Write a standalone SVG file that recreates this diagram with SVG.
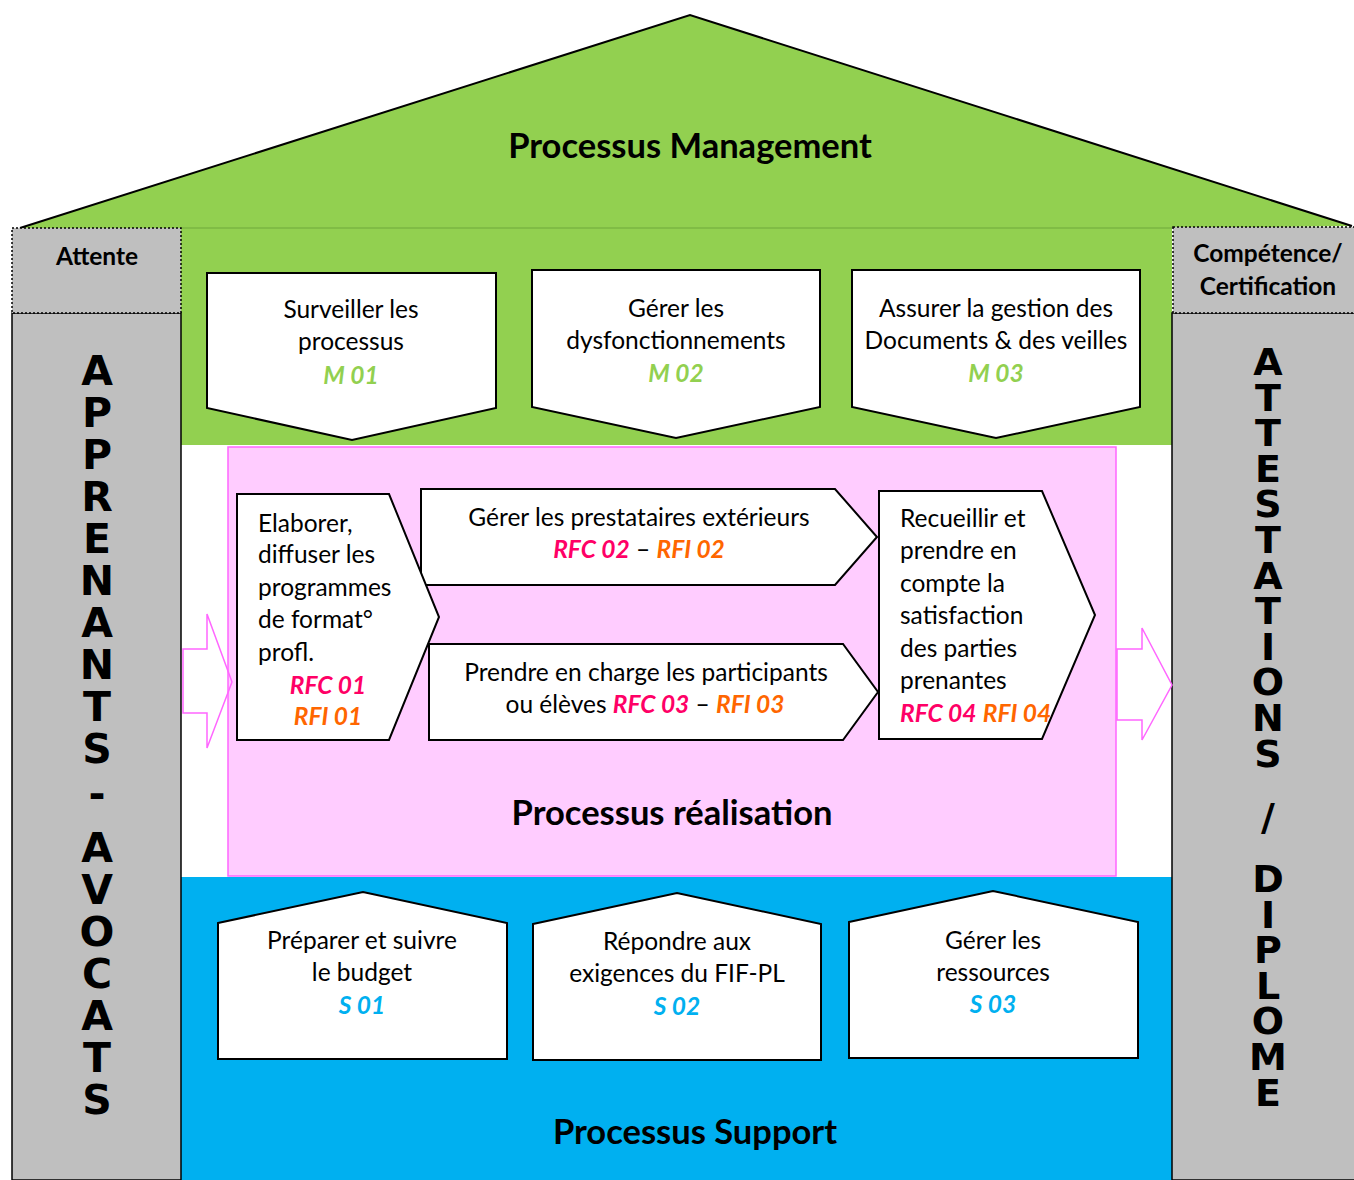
<svg xmlns="http://www.w3.org/2000/svg" width="1354" height="1180" viewBox="0 0 1354 1180">
<style>
.t{font-family:Lato,"Open Sans","Liberation Sans",sans-serif;font-size:24.5px;fill:#000}
.c{text-anchor:middle}
.code{font-weight:bold;font-style:italic}
.title{font-family:Lato,"Open Sans","Liberation Sans",sans-serif;font-size:34.5px;font-weight:bold;text-anchor:middle;fill:#000}
.hdr{font-family:Lato,"Open Sans","Liberation Sans",sans-serif;font-size:24.5px;font-weight:bold;text-anchor:middle;fill:#000}
.vl{font-family:"DejaVu Sans",sans-serif;font-weight:bold;fill:#000;writing-mode:vertical-rl;text-orientation:upright}
.node{fill:#fff;stroke:#000;stroke-width:2;stroke-linejoin:miter}
.rfc{fill:#FF0066}
.rfi{fill:#FF6600}
.m{fill:#92D050}
.s{fill:#00B0F0}
.dot{fill:none;stroke:#000;stroke-width:1.5;stroke-dasharray:2 2}
.arrow{fill:none;stroke:#FF66FF;stroke-width:1.5}
</style>
<rect width="1354" height="1180" fill="#fff"/>
<g id="roof">
<polygon points="20,228 690,15 1352,226 1172,228 1172,445 181,445 181,228" fill="#92D050"/>
<polyline points="20,228 690,15 1352,226" fill="none" stroke="#000" stroke-width="2"/>
<line x1="181" y1="228" x2="1172" y2="228" stroke="#6FA83A" stroke-width="1"/>
<text class="title" x="690" y="158">Processus Management</text>
</g>
<g id="support-band">
<rect x="181" y="877" width="991" height="303" fill="#00B0F0"/>
<text class="title" x="695" y="1144">Processus Support</text>
</g>
<g id="realisation-zone">
<rect x="228" y="447" width="888" height="429" fill="#FFCCFF" stroke="#FF66FF" stroke-width="1.5"/>
<text class="title" x="672" y="825">Processus réalisation</text>
</g>
<g id="left-column">
<rect x="12" y="313" width="169" height="867" fill="#BFBFBF" stroke="#000" stroke-width="1.5"/>
<rect x="12" y="228" width="169" height="85" fill="#BFBFBF"/>
<rect x="12" y="228" width="169" height="85" class="dot"/>
<text class="hdr" x="97" y="265">Attente</text>
<text class="vl" font-size="41" letter-spacing="-6" x="97" y="347">APPRENANTS</text>
<text class="vl" font-size="41" x="97" y="770">-</text>
<text class="vl" font-size="41" letter-spacing="-6" x="97" y="824">AVOCATS</text>
</g>
<g id="right-column">
<rect x="1172" y="313" width="183" height="867" fill="#BFBFBF" stroke="#000" stroke-width="1.5"/>
<rect x="1173" y="227" width="181" height="86" fill="#BFBFBF"/>
<rect x="1173" y="227" width="185" height="86" class="dot"/>
<text class="hdr" x="1268" y="262">Compétence/</text>
<text class="hdr" x="1268" y="295">Certification</text>
<text class="vl" font-size="38" letter-spacing="-8.4" x="1268" y="340">ATTESTATIONS</text>
<text class="vl" font-size="38" x="1268" y="795">/</text>
<text class="vl" font-size="38" letter-spacing="-8.4" x="1268" y="857">DIPLOME</text>
</g>
<g id="M01">
<polygon class="node" points="207,273 496,273 496,408 352,440 207,408"/>
<text class="t c" x="351" y="318">Surveiller les</text>
<text class="t c" x="351" y="350">processus</text>
<text class="t c code m" x="351" y="384">M 01</text>
</g>
<g id="M02">
<polygon class="node" points="532,270 820,270 820,407 676,438 532,407"/>
<text class="t c" x="676" y="317">Gérer les</text>
<text class="t c" x="676" y="349">dysfonctionnements</text>
<text class="t c code m" x="676" y="382">M 02</text>
</g>
<g id="M03">
<polygon class="node" points="852,270 1140,270 1140,407 996,438 852,407"/>
<text class="t c" x="996" y="317">Assurer la gestion des</text>
<text class="t c" x="996" y="349">Documents &amp; des veilles</text>
<text class="t c code m" x="996" y="382">M 03</text>
</g>
<g id="RFC02">
<polygon class="node" points="421,489 835,489 877,537 835,585 421,585"/>
<text class="t c" x="639" y="526">Gérer les prestataires extérieurs</text>
<text class="t c" x="639" y="558"><tspan class="code rfc">RFC 02</tspan> – <tspan class="code rfi">RFI 02</tspan></text>
</g>
<g id="RFC03">
<polygon class="node" points="429,644 843,644 878,692 843,740 429,740"/>
<text class="t c" x="646" y="681">Prendre en charge les participants</text>
<text class="t c" x="645" y="713">ou élèves <tspan class="code rfc">RFC 03</tspan> – <tspan class="code rfi">RFI 03</tspan></text>
</g>
<g id="RFC01">
<polygon class="node" points="237,494 389,494 439,617 389,740 237,740"/>
<text class="t" x="258" y="532">Elaborer,</text>
<text class="t" x="258" y="563">diffuser les</text>
<text class="t" x="258" y="596">programmes</text>
<text class="t" x="258" y="628">de format°</text>
<text class="t" x="258" y="661">profl.</text>
<text class="t c code rfc" x="328" y="694">RFC 01</text>
<text class="t c code rfi" x="328" y="725">RFI 01</text>
</g>
<g id="RFC04">
<polygon class="node" points="879,491 1042,491 1095,615 1042,739 879,739"/>
<text class="t" x="900" y="527">Recueillir et</text>
<text class="t" x="900" y="559">prendre en</text>
<text class="t" x="900" y="592">compte la</text>
<text class="t" x="900" y="624">satisfaction</text>
<text class="t" x="900" y="657">des parties</text>
<text class="t" x="900" y="689">prenantes</text>
<text class="t" x="900" y="722"><tspan class="code rfc">RFC 04</tspan> <tspan class="code rfi">RFI 04</tspan></text>
</g>
<g id="S01">
<polygon class="node" points="218,923 363,892 507,923 507,1059 218,1059"/>
<text class="t c" x="362" y="949">Préparer et suivre</text>
<text class="t c" x="362" y="981">le budget</text>
<text class="t c code s" x="362" y="1014">S 01</text>
</g>
<g id="S02">
<polygon class="node" points="533,924 677,893 821,924 821,1060 533,1060"/>
<text class="t c" x="677" y="950">Répondre aux</text>
<text class="t c" x="677" y="982">exigences du FIF-PL</text>
<text class="t c code s" x="677" y="1015">S 02</text>
</g>
<g id="S03">
<polygon class="node" points="849,922 993,891 1138,922 1138,1058 849,1058"/>
<text class="t c" x="993" y="949">Gérer les</text>
<text class="t c" x="993" y="981">ressources</text>
<text class="t c code s" x="993" y="1013">S 03</text>
</g>
<g id="connectors">
<polygon class="arrow" points="183,649 207,649 207,614 232,682 207,748 207,713 183,713"/>
<polygon class="arrow" points="1117,649 1142,649 1142,628 1172,685 1142,740 1142,720 1117,720"/>
</g>
</svg>
